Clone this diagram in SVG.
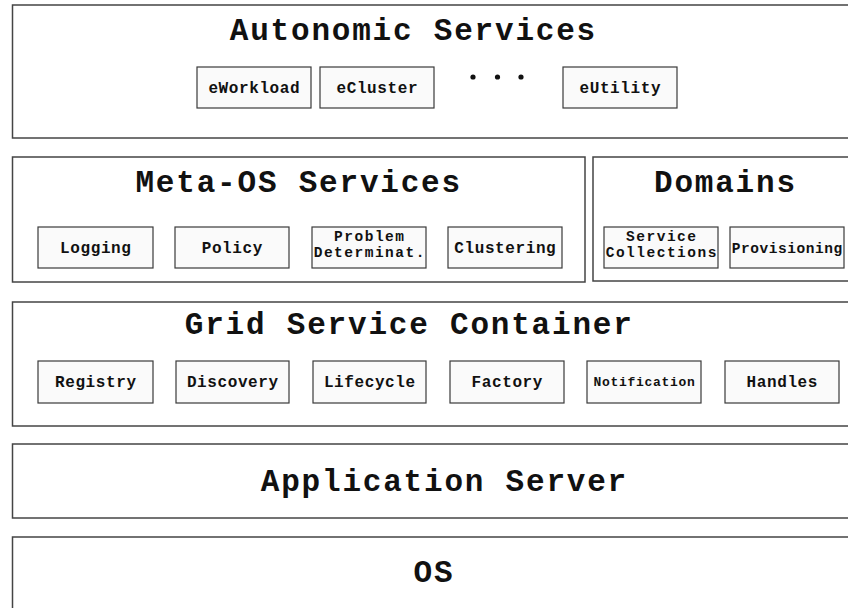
<svg xmlns="http://www.w3.org/2000/svg" width="848" height="608" viewBox="0 0 848 608">
  <style>
    .layer { fill: #ffffff; stroke: #444444; stroke-width: 1.5; }
    .box { fill: #fafafa; stroke: #3a3a3a; stroke-width: 1.2; }
    text { font-family: "Liberation Mono", "Courier New", monospace; font-weight: bold; fill: #111111; }
    .title { font-size: 31px; letter-spacing: 1.8px; text-anchor: middle; }
    .item { font-size: 16px; letter-spacing: 0.6px; text-anchor: middle; }
    .two { font-size: 14.5px; letter-spacing: 1.5px; }
    .small { font-size: 13px; letter-spacing: 0.7px; }
    .mid { font-size: 14.5px; letter-spacing: 0.55px; }
  </style>
  <rect width="848" height="608" fill="#ffffff"/>

  <!-- Autonomic Services layer -->
  <g id="autonomic-services">
    <rect class="layer" x="12.5" y="5" width="850" height="133"/>
    <text class="title" x="413.4" y="40">Autonomic Services</text>
    <g id="eWorkload">
      <rect class="box" x="197" y="67" width="114" height="41"/>
      <text class="item" x="254.3" y="93">eWorkload</text>
    </g>
    <g id="eCluster">
      <rect class="box" x="320" y="67" width="114" height="41"/>
      <text class="item" x="377.3" y="93">eCluster</text>
    </g>
    <g id="ellipsis" fill="#111111">
      <circle cx="473" cy="77" r="2.6"/>
      <circle cx="497.5" cy="77" r="2.6"/>
      <circle cx="521" cy="77" r="2.6"/>
    </g>
    <g id="eUtility">
      <rect class="box" x="563" y="67" width="114" height="41"/>
      <text class="item" x="620.3" y="93">eUtility</text>
    </g>
  </g>

  <!-- Meta-OS Services layer -->
  <g id="meta-os-services">
    <rect class="layer" x="12.5" y="157" width="572.5" height="125"/>
    <text class="title" x="298.7" y="191.5">Meta-OS Services</text>
    <g id="logging">
      <rect class="box" x="38" y="227" width="115" height="41"/>
      <text class="item" x="95.8" y="253">Logging</text>
    </g>
    <g id="policy">
      <rect class="box" x="175" y="227" width="114" height="41"/>
      <text class="item" x="232.3" y="253">Policy</text>
    </g>
    <g id="problem-determination">
      <rect class="box" x="312" y="227" width="114" height="41"/>
      <text class="item two" x="369.8" y="241">Problem</text>
      <text class="item two" x="369.8" y="257">Determinat.</text>
    </g>
    <g id="clustering">
      <rect class="box" x="448" y="227" width="114" height="41"/>
      <text class="item" x="505.3" y="253">Clustering</text>
    </g>
  </g>

  <!-- Domains layer -->
  <g id="domains">
    <rect class="layer" x="593" y="157" width="270" height="124"/>
    <text class="title" x="725.4" y="191.5">Domains</text>
    <g id="service-collections">
      <rect class="box" x="604" y="227" width="114" height="41"/>
      <text class="item two" x="661.8" y="241">Service</text>
      <text class="item two" x="661.8" y="257">Collections</text>
    </g>
    <g id="provisioning">
      <rect class="box" x="730" y="227" width="114" height="41"/>
      <text class="item mid" x="787.3" y="252.5">Provisioning</text>
    </g>
  </g>

  <!-- Grid Service Container layer -->
  <g id="grid-service-container">
    <rect class="layer" x="12.5" y="302" width="850" height="124"/>
    <text class="title" x="409.2" y="334">Grid Service Container</text>
    <g id="registry">
      <rect class="box" x="38" y="361" width="115" height="42"/>
      <text class="item" x="95.8" y="387">Registry</text>
    </g>
    <g id="discovery">
      <rect class="box" x="176" y="361" width="113" height="42"/>
      <text class="item" x="232.8" y="387">Discovery</text>
    </g>
    <g id="lifecycle">
      <rect class="box" x="313" y="361" width="113" height="42"/>
      <text class="item" x="369.8" y="387">Lifecycle</text>
    </g>
    <g id="factory">
      <rect class="box" x="450" y="361" width="114" height="42"/>
      <text class="item" x="507.3" y="387">Factory</text>
    </g>
    <g id="notification">
      <rect class="box" x="587" y="361" width="114" height="42"/>
      <text class="item small" x="644.4" y="386">Notification</text>
    </g>
    <g id="handles">
      <rect class="box" x="725" y="361" width="114" height="42"/>
      <text class="item" x="782.3" y="387">Handles</text>
    </g>
  </g>

  <!-- Application Server layer -->
  <g id="application-server">
    <rect class="layer" x="12.5" y="444" width="850" height="74"/>
    <text class="title" x="444.4" y="491">Application Server</text>
  </g>

  <!-- OS layer -->
  <g id="os">
    <rect class="layer" x="12.5" y="537" width="850" height="90"/>
    <text class="title" x="433.9" y="582">OS</text>
  </g>

  <g id="connectors"/>
</svg>
